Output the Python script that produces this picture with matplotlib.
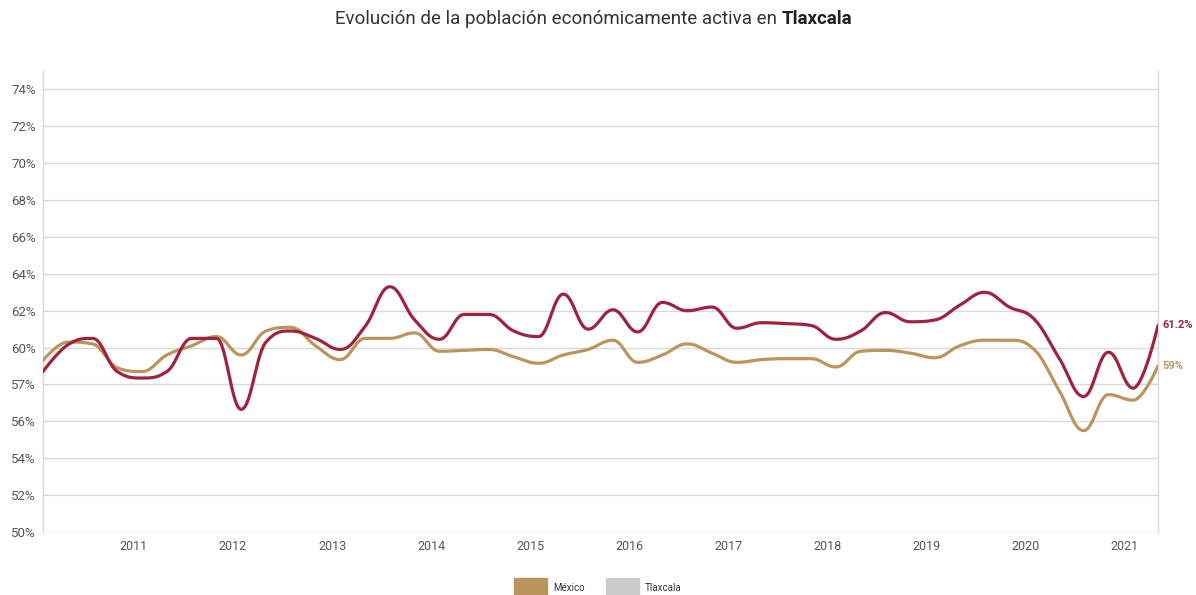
import matplotlib
matplotlib.use("Agg")
import matplotlib.pyplot as plt
import numpy as np
from matplotlib.patches import Patch

# trimestres 2010-T1 .. 2021-T2
anios = [a for a in range(2010, 2022) for _ in range(4)][:46]
trimestres = [1, 2, 3, 4] * 11 + [1, 2]

mexico = [59.3, 60.3, 60.2, 58.9, 58.7, 59.6, 60.1, 60.6, 59.6, 60.9,
          61.1, 60.1, 59.35, 60.5, 60.5, 60.8, 59.8, 59.85, 59.9, 59.5,
          59.15, 59.6, 59.9, 60.4, 59.2, 59.6, 60.2, 59.7, 59.2, 59.35,
          59.4, 59.4, 58.95, 59.8, 59.85, 59.7, 59.45, 60.1, 60.4, 60.4,
          59.9, 57.7, 55.5, 57.45, 57.15, 59.0]
tlaxcala = [58.7, 60.15, 60.5, 58.7, 58.35, 58.7, 60.5, 60.5, 56.65, 60.3,
            60.9, 60.5, 59.9, 61.15, 63.3, 61.5, 60.45, 61.8, 61.8, 60.9,
            60.6, 62.9, 61.0, 62.05, 60.85, 62.45, 62.0, 62.2, 61.05, 61.35,
            61.3, 61.2, 60.45, 60.9, 61.9, 61.4, 61.5, 62.3, 63.0, 62.2,
            61.55, 59.45, 57.35, 59.75, 57.8, 61.2]

y_ticks = [50, 52, 54, 56, 58, 60, 62, 64, 66, 68, 70, 72, 74]
y_labels = ["50%", "52%", "54%", "56%", "57%", "60%", "62%", "64%",
            "66%", "68%", "70%", "72%", "74%"]
x_ticks = list(range(2011, 2022))

GUINDA = "#9f2241"
DORADO = "#bc955c"
GRIS = "#cccccc"


def spline(xs, ys, smoothing=1.5, n=30):
    """Highcharts-style spline through the points"""
    xs = np.asarray(xs, float)
    ys = np.asarray(ys, float)
    m = len(xs)
    left = [(xs[i], ys[i]) for i in range(m)]
    right = [(xs[i], ys[i]) for i in range(m)]
    d = smoothing + 1
    for i in range(1, m - 1):
        px, py = xs[i], ys[i]
        lx, ly = xs[i - 1], ys[i - 1]
        nx, ny = xs[i + 1], ys[i + 1]
        lcx = (smoothing * px + lx) / d
        lcy = (smoothing * py + ly) / d
        rcx = (smoothing * px + nx) / d
        rcy = (smoothing * py + ny) / d
        if rcx != lcx:
            corr = ((rcy - lcy) * (rcx - px)) / (rcx - lcx) + py - rcy
            lcy += corr
            rcy += corr
        if lcy > ly and lcy > py:
            lcy = max(ly, py)
            rcy = 2 * py - lcy
        elif lcy < ly and lcy < py:
            lcy = min(ly, py)
            rcy = 2 * py - lcy
        if rcy > ny and rcy > py:
            rcy = max(ny, py)
            lcy = 2 * py - rcy
        elif rcy < ny and rcy < py:
            rcy = min(ny, py)
            lcy = 2 * py - rcy
        left[i] = (lcx, lcy)
        right[i] = (rcx, rcy)
    out_x, out_y = [xs[0]], [ys[0]]
    t = np.linspace(0, 1, n)[1:]
    for i in range(1, m):
        p0 = (xs[i - 1], ys[i - 1])
        c1 = right[i - 1]
        c2 = left[i]
        p3 = (xs[i], ys[i])
        bx = ((1 - t) ** 3 * p0[0] + 3 * (1 - t) ** 2 * t * c1[0]
              + 3 * (1 - t) * t ** 2 * c2[0] + t ** 3 * p3[0])
        by = ((1 - t) ** 3 * p0[1] + 3 * (1 - t) ** 2 * t * c1[1]
              + 3 * (1 - t) * t ** 2 * c2[1] + t ** 3 * p3[1])
        out_x.extend(bx)
        out_y.extend(by)
    return np.array(out_x), np.array(out_y)


plt.rcParams['font.family'] = ['Roboto', 'DejaVu Sans']

fig = plt.figure(figsize=(11.96, 5.95), dpi=100)
ax = fig.add_axes([43 / 1196, 1 - 532 / 595, (1158 - 43) / 1196, (532 - 71) / 595])

# fecha del punto: segundo mes del trimestre (feb, may, ago, nov)
x = np.array([a + (3 * (q - 1) + 1) / 12 for a, q in zip(anios, trimestres)])

sx, sy = spline(x, mexico)
ax.plot(sx, sy, color=DORADO, lw=2.3, solid_capstyle='round', zorder=3)
sx, sy = spline(x, tlaxcala)
ax.plot(sx, sy, color=GUINDA, lw=2.3, solid_capstyle='round', zorder=4)

ax.set_xlim(x[0], x[-1])
ax.set_ylim(50, 75)
ax.set_yticks(y_ticks)
ax.set_yticklabels(y_labels)
ax.set_xticks(x_ticks)
ax.set_xticklabels([str(a) for a in x_ticks])
ax.grid(axis='y', color='#d9d9d9', lw=1)
ax.set_axisbelow(True)
ax.tick_params(length=0, labelsize=9, colors='#555555', pad=6)
ax.tick_params(axis='y', labelsize=9.5, pad=5)
for s in ['top', 'bottom']:
    ax.spines[s].set_visible(False)
for s in ['left', 'right']:
    ax.spines[s].set_color('#d9d9d9')
    ax.spines[s].set_linewidth(1)

# etiquetas del ultimo valor
ax.annotate(f"{tlaxcala[-1]:.1f}%", (x[-1], tlaxcala[-1]), xytext=(3, 0),
            textcoords='offset points', va='center', ha='left',
            color=GUINDA, fontsize=8, fontweight='bold', annotation_clip=False)
ax.annotate(f"{mexico[-1]:.0f}%", (x[-1], mexico[-1]), xytext=(3, 0),
            textcoords='offset points', va='center', ha='left',
            color=DORADO, fontsize=8, fontweight='bold', annotation_clip=False)

# titulo con parte en negritas
t1 = fig.text(0, 0.968, "Evolución de la población económicamente activa en ",
              fontsize=13.5, color='#333333', va='center')
t2 = fig.text(0, 0.968, "Tlaxcala", fontsize=13.5, color='#222222',
              fontweight='bold', va='center')
fig.canvas.draw()
r = fig.canvas.get_renderer()
w1 = t1.get_window_extent(r).width / fig.bbox.width
w2 = t2.get_window_extent(r).width / fig.bbox.width
x0 = 0.496 - (w1 + w2) / 2
t1.set_x(x0)
t2.set_x(x0 + w1)

handles = [Patch(color=DORADO), Patch(color=GRIS)]
fig.legend(handles, ["México", "Tlaxcala"], loc='center', bbox_to_anchor=(0.5, 0.012),
           ncol=2, frameon=False, fontsize=7, handlelength=3.4, handleheight=2.7,
           handletextpad=0.6, columnspacing=2.2, labelcolor='#333333')

fig.savefig("out.png", dpi=100)
